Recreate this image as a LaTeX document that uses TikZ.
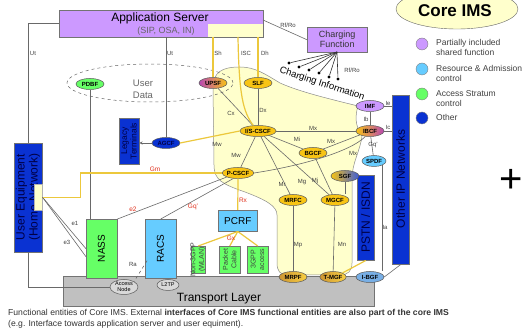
\documentclass[tikz,border=0pt]{standalone}
\usepackage{fontspec}
\setmainfont{Liberation Sans}
\usetikzlibrary{shapes.geometric,arrows.meta,calc}
\definecolor{aspurple}{RGB}{204,153,255}
\definecolor{dblue}{RGB}{10,50,210}
\definecolor{lgreen}{RGB}{102,255,102}
\definecolor{lblue}{RGB}{102,204,255}
\definecolor{orng}{RGB}{248,196,20}
\definecolor{lyel}{RGB}{255,255,204}
\definecolor{tgrey}{RGB}{192,192,192}
\definecolor{lgrey}{RGB}{105,105,105}
\definecolor{ylin}{RGB}{236,200,60}
\definecolor{lred}{RGB}{225,50,30}
\definecolor{mag}{RGB}{185,70,180}
\definecolor{txtblue}{RGB}{0,0,70}
\definecolor{tanc}{RGB}{205,150,50}
\definecolor{steel}{RGB}{120,175,230}
\tikzset{
 ent/.style={ellipse, draw=black!65, line width=0.5pt, minimum width=28pt, minimum height=11pt, inner sep=0pt, font=\fontsize{6}{6}\selectfont\bfseries},
 orent/.style={ent, fill=orng},
 boxn/.style={draw=black!55, line width=0.5pt, anchor=north west, inner sep=0pt},
 bluebox/.style={boxn, fill=dblue},
 rtext/.style={rotate=90, align=center, inner sep=0pt},
 gline/.style={draw=lgrey, line width=0.6pt},
 yline/.style={draw=ylin, line width=1.2pt},
 lab/.style={font=\fontsize{6}{6}\selectfont, text=black!75, inner sep=0.5pt},
 rlab/.style={font=\fontsize{6.5}{6.5}\selectfont, text=lred, inner sep=0.5pt},
 dotn/.style={circle, fill=black, minimum size=3.2pt, inner sep=0pt},
 legc/.style={circle, draw=black!50, minimum size=12pt, inner sep=0pt},
 legt/.style={anchor=base west, font=\fontsize{8.5}{10}\selectfont, text=black!75, inner sep=0pt},
}
\begin{document}
\begin{tikzpicture}[x=1pt,y=-1pt]
\useasboundingbox (0,0) rectangle (523,328);
\fill[white] (0,0) rectangle (523,328);
% transport layer
\node[boxn, fill=tgrey, minimum width=311pt, minimum height=30pt] (tl) at (63,276) {};
\node[font=\fontsize{12}{12}\selectfont, inner sep=0pt] (tlt) at (219,299) {Transport Layer};
% core IMS region
\path[draw=black!45, fill=lyel, line width=0.5pt] (213,88) .. controls (213,72) and (222,67) .. (240,67) .. controls (255,67) and (265,74) .. (280,83) .. controls (300,92) and (330,99) .. (358,106) .. controls (355,116) and (355,126) .. (362,136) .. controls (360,152) and (352,162) .. (352,180) -- (352,263) .. controls (352,271) and (348,275) .. (340,275) -- (288,275) .. controls (280,275) and (277,271) .. (277,263) -- (277,215) .. controls (277,206) and (266,200) .. (245,192) .. controls (222,184) and (214,180) .. (214,165) -- cycle;
% user data
\draw[dashed, draw=black!60, line width=0.5pt] (150,83) ellipse [x radius=83pt, y radius=19pt];
\node[font=\fontsize{9.5}{12}\selectfont, text=black!60, align=center, inner sep=0pt] (udata) at (143,89) {User\\Data};
% application server
\node[boxn, fill=aspurple, minimum width=204pt, minimum height=27pt] (as) at (59,10) {};
\node[boxn, fill=lyel, draw=none, minimum width=55pt, minimum height=13pt] (asy) at (208,23.5) {};
\node[font=\fontsize{12}{12}\selectfont, inner sep=0pt] (ast) at (160,18) {Application Server};
\node[font=\fontsize{9}{9}\selectfont, text=black!60, inner sep=0pt] (ass) at (166,31) {(SIP, OSA, IN)};
\coordinate (asw) at (59,23);
\coordinate (asut) at (166,37);
\coordinate (assh) at (213,37);
\coordinate (asisc) at (238,37);
\coordinate (asdh) at (258,37);
\coordinate (ase) at (263,20);
% charging function
\node[boxn, fill=aspurple, minimum width=60pt, minimum height=25pt, font=\fontsize{9}{10}\selectfont, align=center, text=black!80] (cf) at (307,27) {Charging\\Function};
\coordinate (cfb) at (337,52);
% core ims label + legend
\node[ellipse, draw=black!60, fill=lyel, minimum width=122pt, minimum height=40pt, inner sep=0pt] (coreims) at (457,9) {};
\node[font=\fontsize{17}{17}\selectfont\bfseries, inner sep=0pt] (coret) at (455,11) {Core IMS};
\node[legc, fill=aspurple] (lc1) at (422,44) {};
\node[legc, fill=lblue] (lc2) at (422,69) {};
\node[legc, fill=lgreen] (lc3) at (422,94) {};
\node[legc, fill=dblue] (lc4) at (422,118) {};
\node[legt] (lt1a) at (436,46) {Partially included};
\node[legt] (lt1b) at (436,55.5) {shared function};
\node[legt] (lt2a) at (436,72) {Resource \& Admission};
\node[legt] (lt2b) at (436,82) {control};
\node[legt] (lt3a) at (436,97) {Access Stratum};
\node[legt] (lt3b) at (436,107) {control};
\node[legt] (lt4a) at (436,121) {Other};
% boxes
\node[bluebox, minimum width=28pt, minimum height=109pt] (ue) at (14,143) {};
\node[rtext, font=\fontsize{12}{13}\selectfont, text=txtblue] (uet) at (28,197) {User Equipment\\(Home Network)};
\node[boxn, fill=lyel, draw=black!30, minimum width=8pt, minimum height=26pt] (uer) at (34,184) {};
\node[bluebox, minimum width=20pt, minimum height=46pt] (leg) at (119,118) {};
\node[rtext, font=\fontsize{8.5}{9.5}\selectfont, text=txtblue] (legtx) at (129,141) {Legacy\\Terminals};
\node[boxn, fill=lgreen, minimum width=31pt, minimum height=59pt] (nass) at (86,219) {};
\node[rtext, font=\fontsize{10}{10}\selectfont] (nasst) at (101.5,248.5) {NASS};
\node[boxn, fill=lblue, minimum width=31pt, minimum height=59pt] (racs) at (145,219) {};
\node[rtext, font=\fontsize{10}{10}\selectfont] (racst) at (160.5,248.5) {RACS};
\node[boxn, fill=lblue, minimum width=39pt, minimum height=21pt, font=\fontsize{10}{10}\selectfont] (pcrf) at (218,210) {PCRF};
\node[boxn, fill=lgreen, minimum width=14pt, minimum height=27pt] (n3) at (191,246) {};
\node[rtext, font=\fontsize{7}{8.5}\selectfont, text=black!75] (n3t) at (198,259.5) {Non-3GPP\\(WLAN)};
\node[boxn, fill=lgreen, minimum width=21pt, minimum height=27pt] (pkt) at (219,246) {};
\node[rtext, font=\fontsize{7}{8.5}\selectfont, text=black!75] (pktt) at (229.5,259.5) {Packet\\Cable};
\node[boxn, fill=lgreen, minimum width=21pt, minimum height=27pt] (g3) at (247,246) {};
\node[rtext, font=\fontsize{7}{8.5}\selectfont, text=black!75] (g3t) at (257.5,259.5) {3GPP\\access};
\node[bluebox, minimum width=17pt, minimum height=85pt] (pstn) at (357,175) {};
\node[rtext, font=\fontsize{12}{12}\selectfont, text=txtblue] (pstnt) at (365.5,217.5) {PSTN / ISDN};
\node[bluebox, minimum width=17pt, minimum height=169pt] (oip) at (392,95) {};
\node[rtext, font=\fontsize{12}{12}\selectfont, text=txtblue] (oipt) at (400.5,179) {Other IP Networks};
% entities
\node[ent, left color=mag, right color=orng] (upsf) at (213,83) {UPSF};
\node[orent] (slf) at (258,83) {SLF};
\node[orent, minimum width=31pt] (iscscf) at (258,131) {I/S-CSCF};
\node[orent] (bgcf) at (313,153) {BGCF};
\node[orent, minimum width=30pt] (pcscf) at (238,173) {P-CSCF};
\node[orent] (mrfc) at (293,200) {MRFC};
\node[orent] (mgcf) at (335,200) {MGCF};
\node[ent, left color=orng, right color=dblue!80] (sgf) at (345,176) {SGF};
\node[ent, left color=orng, right color=mag] (ibcf) at (370,131) {IBCF};
\node[ent, fill=aspurple] (imf) at (370,106) {IMF};
\node[ent, fill=lblue, minimum width=24pt] (spdf) at (374,161) {SPDF};
\node[ent, left color=tanc, right color=orng!80] (mrpf) at (293,277) {MRPF};
\node[ent, left color=tanc, right color=orng!80, minimum width=25pt] (tmgf) at (333,277) {T-MGF};
\node[ent, fill=steel] (ibgf) at (370,277) {I-BGF};
\node[ent, fill=dblue, text=txtblue] (agcf) at (166,143) {AGCF};
\node[ent, fill=lgreen] (pdbf) at (90,84) {PDBF};
\node[ent, fill=black!15, minimum height=15pt, font=\fontsize{5.5}{6}\selectfont, align=center] (accn) at (124,287) {Access\\Node};
\node[ent, fill=black!15, minimum width=22pt, font=\fontsize{5.5}{6}\selectfont] (l2tp) at (168,285) {L2TP};
% charging dots
\node[dotn] (d1) at (289,63) {};
\node[dotn] (d2) at (299,67) {};
\node[dotn] (d3) at (309,70) {};
\node[dotn] (d4) at (319,73) {};
\node[dotn] (d5) at (329,77) {};
\node[dotn] (d6) at (338,79) {};
\foreach \d in {d1,d2,d3,d4,d5,d6} \draw[black!80, line width=0.6pt] (cfb) -- (\d);
% grey connectors
\draw[gline] (asw) -| (ue.north);
\draw[gline] (asut) -- (agcf.north);
\draw[gline] (pdbf.south) -- (pdbf.south |- nass.north);
\draw[gline] (ase) -- (cf.west);
\draw[gline] (upsf) -- (iscscf);
\draw[gline] (slf) -- (iscscf);
\draw[gline] (iscscf) -- (pcscf);
\draw[gline] (iscscf) -- (ibcf);
\draw[gline] (iscscf) -- (bgcf);
\draw[gline] (bgcf) -- (ibcf);
\draw[gline] (pcscf.east) .. controls (300,166) and (350,152) .. (ibcf.230);
\draw[gline] (iscscf) -- (mrfc);
\draw[gline] (iscscf) -- (mgcf);
\draw[gline] (bgcf) -- (mgcf);
\draw[gline] (mrfc) -- (mrpf);
\draw[gline] (mgcf) -- (tmgf);
\draw[gline] (sgf.south) -- (sgf.south |- mgcf.north);
\draw[gline] (imf) -- (ibcf);
\draw[gline] (imf.east) -- (imf.east -| oip.west);
\draw[gline] (ibcf.east) -- (ibcf.east -| oip.west);
\draw[gline] (ibcf) -- (spdf);
\draw[gline] (spdf.south east) -- (spdf.south east |- ibgf.north);
\draw[gline] (ibgf.east) -- (oip.south);
\draw[gline] (uer.east) -- (nass.west);
\draw[gline] (uer.east) -- ($(nass.west)+(0,8)$);
\draw[gline] (nass.north east) -- (pcscf.south west);
\draw[gline] (racs.north) -- (pcscf.230);
\draw[gline] (ue.south) |- (accn.west);
\draw[gline, dashed] ($(racs.west)+(2,12)$) -- (accn.north east);
\draw[gline, -{Stealth[length=3pt,width=3pt]}] (agcf.west) -- (leg.east |- agcf.west);
% yellow connectors
\draw[yline] (assh) -- (upsf.north);
\draw[yline] (asisc) .. controls (239,95) and (243,112) .. (iscscf.130);
\draw[yline] (asdh) -- (slf.north);
\draw[yline] (agcf.east) -- (iscscf.west);
\draw[yline] (uer.east) -- ++(38,0) |- (pcscf.west);
\draw[yline] (pcscf.south) -- (pcrf.north);
\draw[yline] (pcrf.south) -- (n3.north);
\draw[yline] (pcrf.south) -- (pkt.north);
\draw[yline] (pcrf.south) -- (g3.north);
\draw[yline] (tmgf.north east) -- (pstn.south);
% labels
\node[lab] (lut1) at (33,53) {Ut};
\node[lab] (lut2) at (170,53) {Ut};
\node[lab] (lsh) at (218,53) {Sh};
\node[lab] (lisc) at (246,53) {ISC};
\node[lab] (ldh) at (265,53) {Dh};
\node[lab] (lrf1) at (288,25) {Rf/Ro};
\node[lab] (lrf2) at (352,70) {Rf/Ro};
\node[lab] (lcx) at (231,113) {Cx};
\node[lab] (ldx) at (263,110) {Dx};
\node[lab] (lmw1) at (236,155) {Mw};
\node[lab] (lmw2) at (217,144) {Mw};
\node[lab] (lmx1) at (313,128) {Mx};
\node[lab] (lmi) at (297,139) {Mi};
\node[lab] (lmx2) at (331,141) {Mx};
\node[lab] (lmx3) at (353,153) {Mx};
\node[lab] (lmr) at (282,184) {Mr};
\node[lab] (lmg) at (302,182) {Mg};
\node[lab] (lmj) at (315,181) {Mj};
\node[lab] (lmp) at (298,245) {Mp};
\node[lab] (lmn) at (342,244) {Mn};
\node[lab] (lib) at (366,119) {Ib};
\node[lab] (lie) at (388,103) {Ie};
\node[lab] (lic) at (388,127) {Ic};
\node[lab] (lgq2) at (373,145) {Gq'};
\node[lab] (lia) at (385,227) {Ia};
\node[lab] (le1) at (75,223) {e1};
\node[lab] (le3) at (67,242) {e3};
\node[lab] (lra) at (133,264) {Ra};
\node[rlab] (lgm) at (155,169) {Gm};
\node[rlab] (le2) at (133,209) {e2};
\node[rlab] (lgq) at (193,207) {Gq'};
\node[rlab] (lrx) at (243,200) {Rx};
\node[rlab] (lgx) at (231,238) {Gx};
\node[font=\fontsize{9.5}{9.5}\selectfont, rotate=-18, inner sep=0pt] (chinf) at (322,84) {Charging Information};
% cursor
\node[font=\fontsize{40}{40}\selectfont, inner sep=0pt] (plus) at (511,181) {+};
% caption
\node[anchor=base west, font=\fontsize{8.6}{8.6}\selectfont, text=black!80, inner sep=0pt] (cap1) at (8,316) {Functional entities of Core IMS. External \textbf{interfaces of Core IMS functional entities are also part of the core IMS}};
\node[anchor=base west, font=\fontsize{8.6}{8.6}\selectfont, text=black!80, inner sep=0pt] (cap2) at (8,327) {(e.g. Interface towards application server and user equiment).};
\end{tikzpicture}
\end{document}
